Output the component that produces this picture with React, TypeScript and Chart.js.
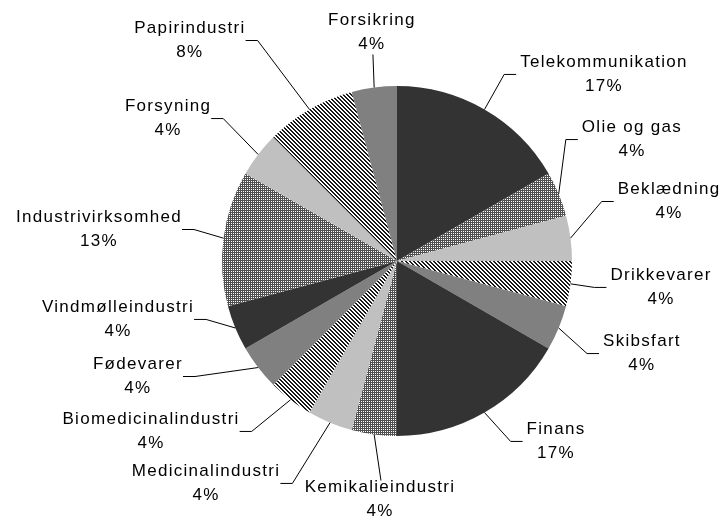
import React, { useEffect, useRef } from "react";
import { Chart, registerables } from "chart.js";

Chart.register(...registerables);

// ---- data ----
const categories = [
  "Telekommunikation",
  "Olie og gas",
  "Beklædning",
  "Drikkevarer",
  "Skibsfart",
  "Finans",
  "Kemikalieindustri",
  "Medicinalindustri",
  "Biomedicinalindustri",
  "Fødevarer",
  "Vindmølleindustri",
  "Industrivirksomhed",
  "Forsyning",
  "Papirindustri",
  "Forsikring",
];
const counts = [4, 1, 1, 1, 1, 4, 1, 1, 1, 1, 1, 3, 1, 2, 1];

// ---- label layout: block centre relative to pie centre, in radius units ----
const labelDX = [1.177, 1.337, 1.549, 1.503, 1.394, 0.903, -0.103, -1.097, -1.411, -1.486, -1.6, -1.709, -1.314, -1.189, -0.149];
const labelDY = [-1.066, -0.694, -0.34, 0.151, 0.529, 1.031, 1.363, 1.271, 0.974, 0.66, 0.334, -0.18, -0.814, -1.26, -1.306];

const FONT = "17px 'Liberation Sans', Arial, sans-serif";

function makePattern(size: number, draw: (c: CanvasRenderingContext2D) => void) {
  const cv = document.createElement("canvas");
  cv.width = size;
  cv.height = size;
  const c = cv.getContext("2d")!;
  draw(c);
  return c.createPattern(cv, "repeat")!;
}

function makeFills() {
  const stripes = makePattern(4, (c) => {
    c.fillStyle = "#ffffff";
    c.fillRect(0, 0, 4, 4);
    c.fillStyle = "#1a1a1a";
    for (let y = 0; y < 4; y++) {
      c.fillRect(y % 4, y, 1, 1);
      c.fillRect((y + 1) % 4, y, 1, 1);
    }
  });
  const checker = makePattern(2, (c) => {
    c.fillStyle = "#505050";
    c.fillRect(0, 0, 2, 2);
    c.fillStyle = "#ffffff";
    c.fillRect(1, 1, 1, 1);
  });
  const cycle: (string | CanvasPattern)[] = ["#333333", checker, "#c0c0c0", stripes, "#808080"];
  return counts.map((_, i) => cycle[i % cycle.length]);
}

const labelPlugin = {
  id: "outsideLabels",
  afterDatasetsDraw(chart: any) {
    const ctx: CanvasRenderingContext2D = chart.ctx;
    const meta = chart.getDatasetMeta(0);
    const total = counts.reduce((a, b) => a + b, 0);
    ctx.save();
    ctx.font = FONT;
    (ctx as any).letterSpacing = "1.3px";
    ctx.fillStyle = "#000000";
    ctx.strokeStyle = "#000000";
    ctx.lineWidth = 1;
    ctx.textAlign = "center";
    ctx.textBaseline = "middle";
    meta.data.forEach((arc: any, i: number) => {
      const { x, y, startAngle, endAngle, outerRadius } = arc.getProps(
        ["x", "y", "startAngle", "endAngle", "outerRadius"],
        true
      );
      const mid = (startAngle + endAngle) / 2;
      const px = x + Math.cos(mid) * outerRadius;
      const py = y + Math.sin(mid) * outerRadius;
      const cx = x + labelDX[i] * outerRadius;
      const cy = y + labelDY[i] * outerRadius;
      const l1 = categories[i];
      const l2 = Math.round((counts[i] / total) * 100) + "%";
      const w = Math.max(ctx.measureText(l1).width, ctx.measureText(l2).width);

      ctx.beginPath();
      if (Math.abs(labelDX[i]) < 0.3) {
        // above / below label
        const endY = labelDY[i] < 0 ? cy + 22 : cy - 19;
        ctx.moveTo(px, py);
        ctx.lineTo(cx + 2, endY);
      } else if (labelDX[i] > 0) {
        const edge = cx - w / 2 - 3;
        ctx.moveTo(px, py);
        ctx.lineTo(edge - 12, cy);
        ctx.lineTo(edge, cy);
      } else {
        const edge = cx + w / 2 + 1;
        ctx.moveTo(px, py);
        ctx.lineTo(edge + 12, cy);
        ctx.lineTo(edge, cy);
      }
      ctx.stroke();

      ctx.fillText(l1, cx + 1, cy - 12);
      ctx.fillText(l2, cx + 1, cy + 12);
    });
    ctx.restore();
  },
};

export default function App() {
  const ref = useRef<HTMLCanvasElement>(null);

  useEffect(() => {
    const canvas = ref.current!;
    const fills = makeFills();
    const chart = new Chart(canvas, {
      type: "pie",
      data: {
        labels: categories,
        datasets: [
          {
            data: counts,
            backgroundColor: fills as any,
            borderWidth: 0,
          },
        ],
      },
      options: {
        responsive: false,
        animation: false,
        devicePixelRatio: 1,
        events: [],
        radius: 175,
        layout: { padding: { left: 222, right: 150, top: 86, bottom: 86 } },
        plugins: {
          legend: { display: false },
          tooltip: { enabled: false },
        },
      } as any,
      plugins: [labelPlugin],
    });
    return () => chart.destroy();
  }, []);

  return (
    <div
      style={{
        position: "fixed",
        left: 0,
        top: 0,
        width: 722,
        height: 522,
        background: "#ffffff",
      }}
    >
      <canvas ref={ref} width={722} height={522} style={{ display: "block" }} />
    </div>
  );
}
